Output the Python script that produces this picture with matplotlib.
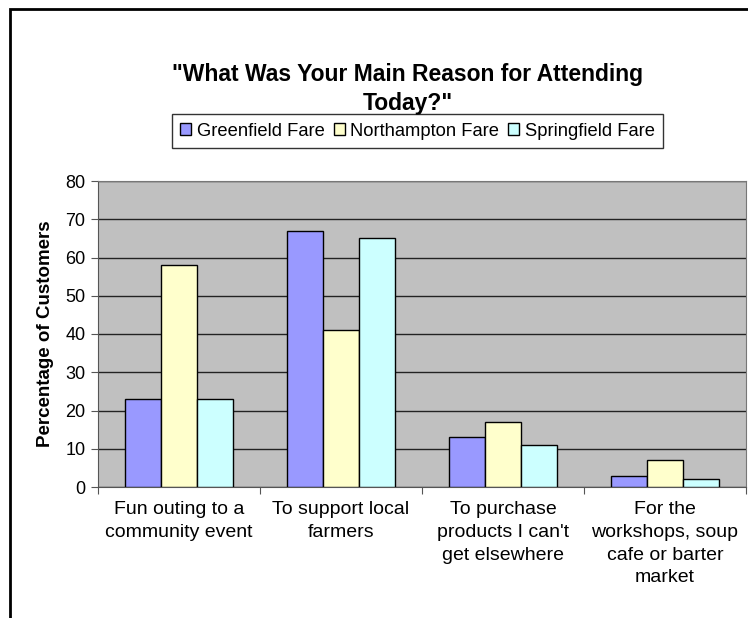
import matplotlib.pyplot as plt
import numpy as np
from matplotlib.patches import Rectangle

plt.rcParams["font.family"] = ["Liberation Sans", "DejaVu Sans"]

categorias = [
    "Fun outing to a\ncommunity event",
    "To support local\nfarmers",
    "To purchase\nproducts I can't\nget elsewhere",
    "For the\nworkshops, soup\ncafe or barter\nmarket",
]
series = ["Greenfield Fare", "Northampton Fare", "Springfield Fare"]
greenfield = [23, 67, 13, 3]
northampton = [58, 41, 17, 7]
springfield = [23, 65, 11, 2]
valores = [greenfield, northampton, springfield]
cores = ["#9999FF", "#FFFFCC", "#CCFFFF"]

fig = plt.figure(figsize=(7.48, 6.18), dpi=100)
# moldura externa do gráfico (só aparecem as bordas de cima e da esquerda)
fig.patches.append(Rectangle((10 / 748, -1.0), 2.0, 1.0 + (618 - 9) / 618, transform=fig.transFigure,
                             fill=False, edgecolor="black", linewidth=2))

ax = fig.add_axes([98 / 748, 1 - 487 / 618, 648 / 748, 306 / 618])
ax.set_facecolor("#C0C0C0")

x = np.arange(len(categorias))
largura = 1 / 4.5
for i, (nome, vals, cor) in enumerate(zip(series, valores, cores)):
    ax.bar(x + (i - 1) * largura, vals, largura, color=cor, edgecolor="black",
           linewidth=1, label=nome, zorder=3)

ax.set_xlim(-0.5, len(categorias) - 0.5)
ax.set_ylim(0, 80)
ax.set_yticks(range(0, 81, 10))
ax.yaxis.grid(True, color="#222222", linewidth=1, zorder=1)
ax.set_axisbelow(True)

ax.set_xticks(np.arange(-0.5, len(categorias), 1.0))
ax.set_xticklabels([])
ax.set_xticks(x, minor=True)
ax.set_xticklabels(categorias, minor=True, fontsize=14, linespacing=1.45)
ax.tick_params(axis="x", which="minor", length=0, pad=10)
ax.tick_params(axis="x", which="major", length=5, direction="out", color="#555555")
ax.tick_params(axis="y", length=5, direction="out", labelsize=13, color="#555555", pad=4)

for lado in ["top", "right"]:
    ax.spines[lado].set_color("#777777")
ax.spines["left"].set_color("#555555")
ax.spines["bottom"].set_color("#555555")

ax.set_ylabel("Percentage of Customers", fontsize=13.5, fontweight="bold", labelpad=8)

fig.text(408 / 748, 1 - 89 / 618, "\"What Was Your Main Reason for Attending\nToday?\"",
         ha="center", va="center", fontsize=16.5, fontweight="bold", linespacing=1.3)

leg = fig.legend(loc="center left", bbox_to_anchor=(172 / 748, 1 - 131 / 618), ncol=3,
                 fontsize=13.2, frameon=True, fancybox=False, edgecolor="black",
                 handlelength=0.6, handleheight=0.6, handletextpad=0.3, columnspacing=0.5,
                 borderpad=0.45, borderaxespad=0)
leg.get_frame().set_linewidth(1)

plt.savefig("out.png", dpi=100)
plt.close()
